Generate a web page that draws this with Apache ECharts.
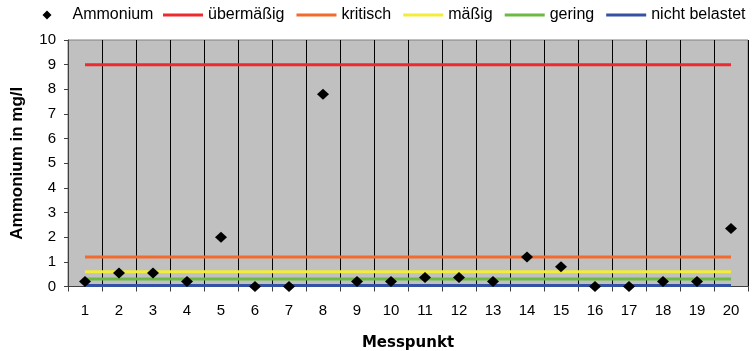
<!DOCTYPE html>
<html>
<head>
<meta charset="utf-8">
<script src="https://cdn.jsdelivr.net/npm/echarts@6/dist/echarts.min.js"></script>
<style>
  html, body { margin: 0; padding: 0; background: #ffffff; }
  #chart { width: 754px; height: 351px; }
</style>
</head>
<body>
<div id="chart"></div>
<script>
// Categories (Messpunkt)
const categories = ['1','2','3','4','5','6','7','8','9','10','11','12','13','14','15','16','17','18','19','20'];
// Ammonium in mg/l
const ammonium = [0.2, 0.55, 0.55, 0.2, 2.0, 0.0, 0.0, 7.8, 0.2, 0.2, 0.37, 0.37, 0.2, 1.2, 0.8, 0.0, 0.0, 0.2, 0.2, 2.35];
// Threshold classes
const thresholdNames = ['übermäßig', 'kritisch', 'mäßig', 'gering', 'nicht belastet'];
const thresholdValues = [9, 1.2, 0.6, 0.3, 0.04];
const thresholdColors = ['#EE2A2E', '#F26A2C', '#F2EC3A', '#6CB944', '#3352A3'];
// Y axis ticks
const yMin = 0, yMax = 10, yInterval = 1;

const FONT = "'Liberation Sans', Arial, sans-serif";

const lineSeries = thresholdNames.map((name, i) => ({
  name: name,
  type: 'line',
  symbol: 'none',
  data: [[categories[0], thresholdValues[i]], [categories[categories.length - 1], thresholdValues[i]]],
  lineStyle: { color: thresholdColors[i], width: 3 },
  itemStyle: { color: thresholdColors[i] },
  z: 3,
  animation: false
}));

const legendText = { fontFamily: FONT, fontSize: 16, color: '#000' };

const chart = echarts.init(document.getElementById('chart'));
chart.setOption({
  animation: false,
  backgroundColor: '#ffffff',
  legend: [{
    left: 42.5,
    top: 7,
    padding: 0,
    itemWidth: 9,
    itemHeight: 9,
    textStyle: Object.assign({ padding: [0, 0, 0, 16] }, legendText),
    data: [{ name: 'Ammonium', icon: 'diamond' }]
  }, {
    left: 163,
    top: 7,
    padding: 0,
    width: 600,
    itemWidth: 40,
    itemHeight: 3,
    itemGap: 12,
    textStyle: legendText,
    data: thresholdNames.map(n => ({ name: n, icon: 'rect' }))
  }],
  grid: {
    left: 68, right: 6, top: 40, bottom: 64.5,
    outerBoundsMode: 'none',
    containLabel: false,
    show: true,
    backgroundColor: '#C0C0C0',
    borderColor: '#808080',
    borderWidth: 1
  },
  xAxis: {
    type: 'category',
    data: categories,
    boundaryGap: true,
    name: 'Messpunkt',
    nameLocation: 'middle',
    nameGap: 49,
    nameTextStyle: { fontFamily: "'DejaVu Sans', sans-serif", fontWeight: 'bold', fontSize: 15, color: '#000' },
    axisLine: { show: true, lineStyle: { color: '#404040', width: 1 } },
    axisTick: { show: true, alignWithLabel: false, length: 5, lineStyle: { color: '#404040' } },
    axisLabel: { fontFamily: FONT, fontSize: 15, color: '#000', margin: 17, interval: 0 },
    splitLine: { show: true, interval: 0, lineStyle: { color: '#000', width: 1 } }
  },
  yAxis: {
    type: 'value',
    min: yMin, max: yMax, interval: yInterval,
    name: 'Ammonium in mg/l',
    nameLocation: 'middle',
    nameGap: 42,
    nameTextStyle: { fontFamily: FONT, fontWeight: 'bold', fontSize: 17, color: '#000' },
    axisLine: { show: true, lineStyle: { color: '#404040', width: 1 } },
    axisTick: { show: true, length: 4, lineStyle: { color: '#404040' } },
    axisLabel: { fontFamily: FONT, fontSize: 15, color: '#000', margin: 12 },
    splitLine: { show: false }
  },
  series: lineSeries.concat([{
    name: 'Ammonium',
    type: 'scatter',
    symbol: 'diamond',
    symbolSize: [12, 11],
    data: ammonium,
    itemStyle: { color: '#000', opacity: 1 },
    z: 5
  }])
});
</script>
</body>
</html>
